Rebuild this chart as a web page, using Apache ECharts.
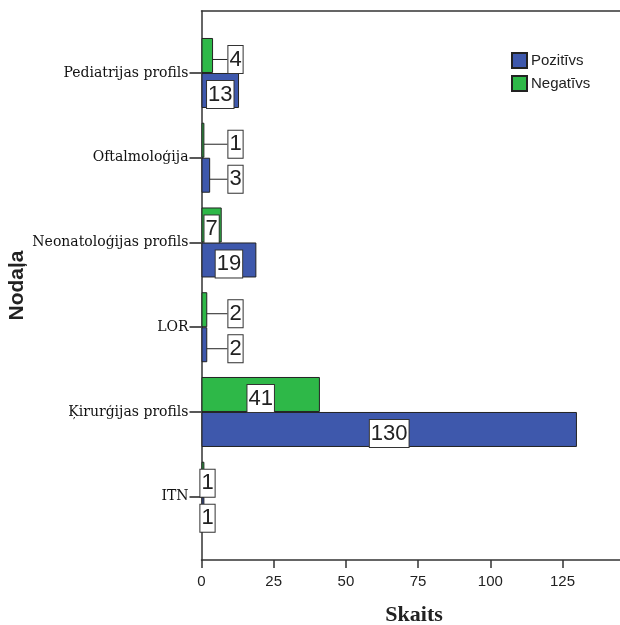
<!DOCTYPE html>
<html><head><meta charset="utf-8">
<script src="https://cdn.jsdelivr.net/npm/echarts@6/dist/echarts.min.js"></script>
<style>html,body{margin:0;padding:0;background:#fff}#c{width:620px;height:625px}</style>
</head><body><div id="c"></div>
<script>
const categories = ['Pediatrijas profils','Oftalmoloģija','Neonatoloģijas profils','LOR','Ķirurģijas profils','ITN'];
const pozitivs = [13, 3, 19, 2, 130, 1];
const negativs = [4, 1, 7, 2, 41, 1];
const seriesNames = ['Pozitīvs', 'Negatīvs'];
const xMin = 0, xMax = 150, xStep = 25;

const BLUE = '#3E58AC', GREEN = '#2EB848', INK = '#222';
const PLOT_LEFT = 201.5;
const PX_PER_UNIT = 2.888;
const PLOT_RIGHT = 620 - (PLOT_LEFT + (xMax - xMin) * PX_PER_UNIT); // negative: axis runs past the canvas edge

function shifted(v, i) { return v < 5 && categories[i] !== 'ITN'; }
function toData(arr) {
  return arr.map((v, i) => ({ value: v, labelLine: { show: shifted(v, i) } }));
}
const labelStyle = {
  show: true, position: 'inside', color: '#222',
  fontFamily: 'Liberation Sans', fontSize: 22, lineHeight: 24,
  backgroundColor: '#fff', borderColor: '#333', borderWidth: 1,
  padding: [2, 1, 1, 1]
};
function makeLayout(values) {
  return function (p) {
    const r = p.rect;
    const w = Math.abs(r.width);
    let cx = Math.max(r.x + w / 2, r.x + 6);
    const cy = r.y + r.height / 2 + 4;
    if (shifted(values[p.dataIndex], p.dataIndex)) cx = r.x + 34;
    return { x: cx, y: cy, align: 'center', verticalAlign: 'middle' };
  };
}

const chart = echarts.init(document.getElementById('c'), null, { renderer: 'canvas' });
chart.setOption({
  animation: false,
  backgroundColor: '#fff',
  legend: {
    data: seriesNames, orient: 'vertical', left: 511, top: 52,
    itemWidth: 15, itemHeight: 15, itemGap: 6, padding: 0,
    icon: 'rect',
    textStyle: { fontFamily: 'Liberation Sans', fontSize: 15, color: '#222', padding: [0, 0, 0, -1] }
  },
  grid: [
    { left: PLOT_LEFT, right: PLOT_RIGHT, top: 11, bottom: 65, containLabel: false, outerBoundsMode: 'none' },
    { left: PLOT_LEFT, right: PLOT_RIGHT, top: 30.6, bottom: 85.9, containLabel: false, outerBoundsMode: 'none' }
  ],
  xAxis: [
    { gridIndex: 0, type: 'value', min: xMin, max: xMax, interval: xStep,
      axisLine: { show: true, lineStyle: { color: '#333', width: 1.5 } },
      axisTick: { show: true, length: 8, lineStyle: { color: '#333', width: 1.5 } },
      axisLabel: { color: '#222', fontFamily: 'Liberation Sans', fontSize: 15, margin: 14 },
      splitLine: { show: false },
      name: 'Skaits', nameLocation: 'middle', nameGap: 44,
      nameTextStyle: { fontFamily: 'Liberation Serif', fontWeight: 'bold', fontSize: 22, color: '#222',
        padding: [0, 8, 0, 0] } },
    { gridIndex: 0, type: 'value', min: xMin, max: xMax, position: 'top',
      axisLine: { show: true, lineStyle: { color: '#333', width: 1.5 } },
      axisTick: { show: false }, axisLabel: { show: false }, splitLine: { show: false } },
    { gridIndex: 1, type: 'value', min: xMin, max: xMax, show: false, splitLine: { show: false } }
  ],
  yAxis: [
    { gridIndex: 0, type: 'value', min: 0, max: 1,
      axisLine: { show: true, lineStyle: { color: '#333', width: 1.5 } },
      axisTick: { show: false }, axisLabel: { show: false }, splitLine: { show: false },
      name: 'Nodaļa', nameLocation: 'middle', nameGap: 174, nameRotate: 90,
      nameTextStyle: { fontFamily: 'Liberation Sans', fontWeight: 'bold', fontSize: 21, color: '#222' } },
    { gridIndex: 1, type: 'category', data: categories, inverse: true,
      axisLine: { show: false },
      axisTick: { show: true, alignWithLabel: true, length: 12, lineStyle: { color: '#222', width: 1.5 } },
      axisLabel: { color: '#111', fontFamily: 'DejaVu Serif', fontSize: 14, margin: 13 } }
  ],
  series: [
    { name: seriesNames[1], type: 'bar', xAxisIndex: 2, yAxisIndex: 1,
      data: toData(negativs), barGap: '0%', barCategoryGap: '17.4%',
      itemStyle: { color: GREEN, borderColor: INK, borderWidth: 1 },
      label: labelStyle, labelLine: { lineStyle: { color: '#222', width: 1 } },
      labelLayout: makeLayout(negativs) },
    { name: seriesNames[0], type: 'bar', xAxisIndex: 2, yAxisIndex: 1,
      data: toData(pozitivs), barGap: '0%', barCategoryGap: '17.4%',
      itemStyle: { color: BLUE, borderColor: INK, borderWidth: 1 },
      label: labelStyle, labelLine: { lineStyle: { color: '#222', width: 1 } },
      labelLayout: makeLayout(pozitivs) }
  ]
});
</script></body></html>
